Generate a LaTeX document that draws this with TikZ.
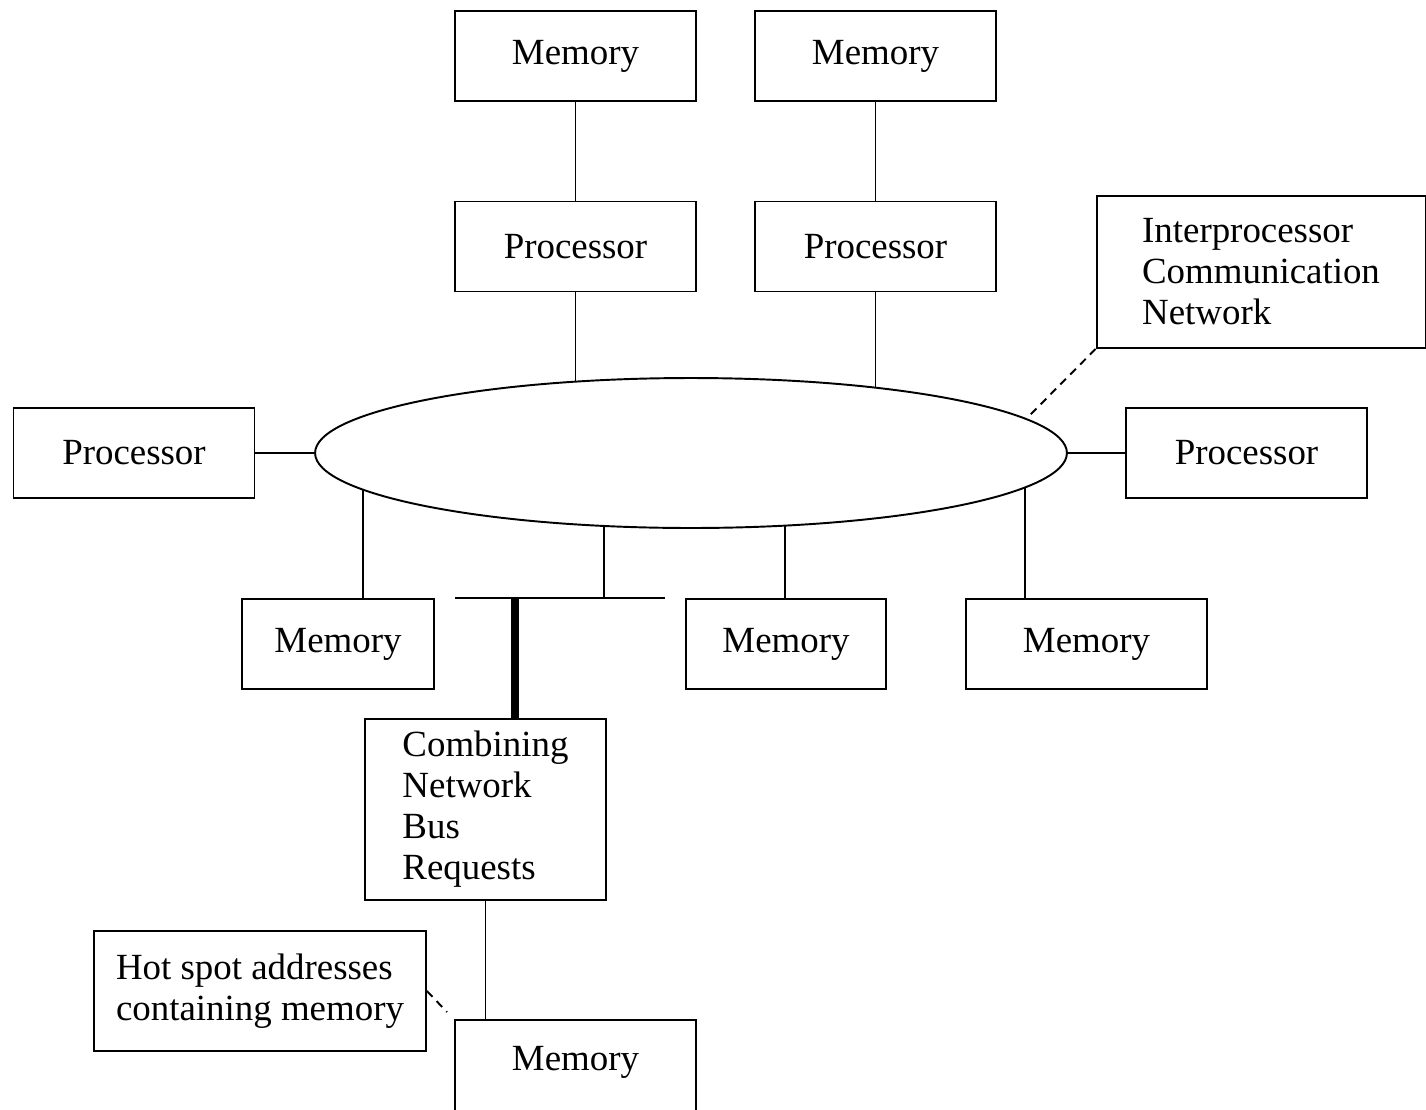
\documentclass[tikz,border=0pt]{standalone}
\usepackage{fontspec}
\setmainfont{Liberation Serif}
\usetikzlibrary{shapes.geometric}
\begin{document}
\begin{tikzpicture}[x=0.02cm,y=-0.02cm,
  box/.style={draw,line width=1.1pt,inner sep=0pt,align=center,
    font=\fontsize{21}{23.3}\selectfont},
  unit/.style={box,minimum width=4.82cm,minimum height=1.8cm},
  textbox/.style={box,align=left},
  link/.style={line width=1.1pt},
  note/.style={line width=1.1pt,dash pattern=on 0.16cm off 0.12cm},
  heavy/.style={line width=0.16cm}]
\useasboundingbox (0,0) rectangle (1426,1109);
\clip (0,0) rectangle (1426,1109);

% upper processor/memory pairs
\node[unit] (mem1) at (575.5,56) {Memory};
\node[unit] (mem2) at (875.5,56) {Memory};
\node[unit] (proc1) at (575.5,246.5) {Processor};
\node[unit] (proc2) at (875.5,246.5) {Processor};

% interconnection network
\node[draw,ellipse,line width=1.1pt,minimum width=15.04cm,minimum height=3cm,inner sep=0pt] (net) at (691,453) {};
\node[unit] (procL) at (134,453) {Processor};
\node[unit] (procR) at (1246.5,453) {Processor};

% lower memories
\node[unit,minimum width=3.84cm] (memA) at (338,644) {Memory};
\node[unit,minimum width=4cm] (memB) at (786,644) {Memory};
\node[unit] (memC) at (1086.5,644) {Memory};

% combining network and hot spot memory (runs past the lower edge)
\node[textbox,minimum width=4.82cm,minimum height=3.62cm] (comb) at (485.5,809.5) {Combining\\Network\\Bus\\Requests};
\node[unit,minimum height=2cm] (memH) at (575.5,1070) {};
\node[box,draw=none] (memHtext) at (575.5,1062) {Memory};

% annotations
\node[textbox,minimum width=6.58cm,minimum height=3.04cm] (ipc) at (1261,272) {Interprocessor\\Communication\\Network};
\node[textbox,minimum width=6.64cm,minimum height=2.4cm] (hot) at (260,991) {Hot spot addresses\\containing memory};

% points on the ellipse border
\coordinate (e1) at (575.5,381.7);
\coordinate (e2) at (875.5,387.6);
\coordinate (ea) at (363,489.7);
\coordinate (ed) at (604,526);
\coordinate (eb) at (785,525.6);
\coordinate (ec) at (1025,487.5);
\coordinate (ei) at (1030,415);
% bus segment below the network
\coordinate (hl) at (455,598);
\coordinate (hr) at (665,598);
\coordinate (bj) at (604,598);
\coordinate (tb) at (515,598);
\coordinate (hs) at (447,1012);

\draw[link] (mem1) -- (proc1);
\draw[link] (mem2) -- (proc2);
\draw[link] (proc1.south) -- (e1);
\draw[link] (proc2.south) -- (e2);
\draw[link] (procL) -- (net);
\draw[link] (net) -- (procR);
\draw[link] (ea) -- (ea |- memA.north);
\draw[link] (eb) -- (eb |- memB.north);
\draw[link] (ec) -- (ec |- memC.north);
\draw[link] (ed) -- (bj);
\draw[link] (hl) -- (hr);
\draw[heavy] (tb) -- (tb |- comb.north);
\draw[link] (comb.south) -- (comb.south |- memH.north);
\draw[note] (ipc.south west) -- (ei);
\draw[note] (hot.east) -- (hs);
\end{tikzpicture}
\end{document}
